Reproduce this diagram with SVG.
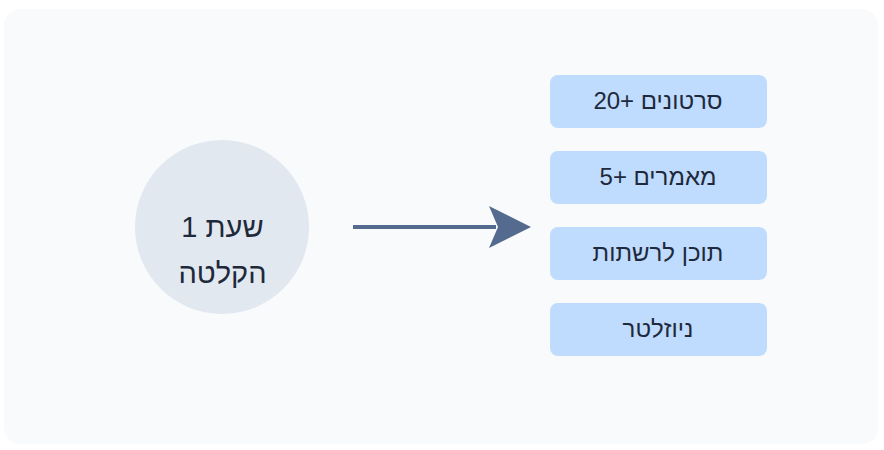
<svg xmlns="http://www.w3.org/2000/svg" width="884" height="450" viewBox="0 0 884 450">
  <style>
    .t { font-family: "Liberation Sans", "DejaVu Sans", Arial, sans-serif; font-size: 24px; fill: #1e293b; text-anchor: middle; direction: rtl; unicode-bidi: embed; }
    .big { font-size: 29px; }
    .box { fill: #bfdbfe; }
  </style>
  <rect x="4" y="9" width="874" height="435" rx="16" fill="#f8fafc"/>
  <g id="source">
    <circle cx="222" cy="227" r="87" fill="#e2e8f0"/>
    <text class="t big" x="222.5" y="237">שעת 1</text>
    <text class="t big" x="222.5" y="283">הקלטה</text>
  </g>
  <g id="connectors">
    <line x1="353" y1="227" x2="496" y2="227" stroke="#546a8f" stroke-width="4"/>
    <path d="M489,206 L531,227 L489,248 L498,227 Z" fill="#546a8f"/>
  </g>
  <g id="videos">
    <rect class="box" x="550" y="75" width="217" height="53" rx="8"/>
    <text class="t" x="658" y="109">סרטונים +20</text>
  </g>
  <g id="articles">
    <rect class="box" x="550" y="151" width="217" height="53" rx="8"/>
    <text class="t" x="658" y="185">מאמרים +5</text>
  </g>
  <g id="social">
    <rect class="box" x="550" y="227" width="217" height="53" rx="8"/>
    <text class="t" x="658" y="261">תוכן לרשתות</text>
  </g>
  <g id="newsletter">
    <rect class="box" x="550" y="303" width="217" height="53" rx="8"/>
    <text class="t" x="658" y="337">ניוזלטר</text>
  </g>
</svg>
